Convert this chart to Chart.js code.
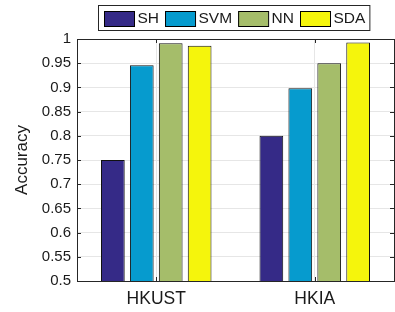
<!DOCTYPE html>
<html>
<head>
<meta charset="utf-8">
<script src="https://cdn.jsdelivr.net/npm/chart.js@4"></script>
<style>
  html, body { margin: 0; padding: 0; background: #fff; }
  #wrap { width: 395px; height: 312px; }
</style>
</head>
<body>
<div id="wrap"><canvas id="c" width="395" height="312"></canvas></div>
<script>
var categories = ['HKUST', 'HKIA'];
var methods = ['SH', 'SVM', 'NN', 'SDA'];
var shValues = [0.75, 0.80];
var svmValues = [0.946, 0.898];
var nnValues = [0.991, 0.950];
var sdaValues = [0.986, 0.993];
var yTicks = [0.5, 0.55, 0.6, 0.65, 0.7, 0.75, 0.8, 0.85, 0.9, 0.95, 1];
var colors = ['#352a87', '#069bce', '#a5bd6a', '#f5f50c'];

var FONT = '"Liberation Sans", Arial, sans-serif';
var series = [shValues, svmValues, nnValues, sdaValues];
var datasets = [];
for (var i = 0; i < methods.length; i++) {
    datasets.push({
        label: methods[i],
        data: series[i],
        backgroundColor: colors[i],
        borderColor: '#111',
        borderWidth: 1,
        borderSkipped: false,
        barPercentage: 0.82,
        categoryPercentage: 0.73
    });
}

// box round the plot, inward ticks, and the MATLAB style legend
var boxPlugin = {
    id: 'box',
    afterDraw: function(chart) {
        var ctx = chart.ctx, a = chart.chartArea;
        var ys = chart.scales.y, xs = chart.scales.x;
        ctx.save();
        ctx.strokeStyle = '#262626';
        ctx.lineWidth = 1;
        ctx.beginPath();
        for (var i = 0; i < yTicks.length; i++) {
            var py = Math.round(ys.getPixelForValue(yTicks[i])) + 0.5;
            ctx.moveTo(a.left, py); ctx.lineTo(a.left + 4, py);
            ctx.moveTo(a.right, py); ctx.lineTo(a.right - 4, py);
        }
        for (var j = 0; j < categories.length; j++) {
            var px = Math.round(xs.getPixelForValue(j)) + 0.5;
            ctx.moveTo(px, a.top); ctx.lineTo(px, a.top + 4);
            ctx.moveTo(px, a.bottom); ctx.lineTo(px, a.bottom - 4);
        }
        ctx.stroke();
        ctx.strokeRect(Math.round(a.left) + 0.5, Math.round(a.top) + 0.5,
            Math.round(a.right - a.left), Math.round(a.bottom - a.top));

        // legend
        ctx.font = '15.5px ' + FONT;
        ctx.textBaseline = 'middle';
        var x = 104, top = 11, bw = 30, bh = 15;
        var start = 98;
        for (var k = 0; k < methods.length; k++) {
            ctx.fillStyle = colors[k];
            ctx.fillRect(x, top, bw, bh);
            ctx.strokeStyle = '#000';
            ctx.strokeRect(x + 0.5, top + 0.5, bw, bh);
            ctx.fillStyle = '#1a1a1a';
            ctx.fillText(methods[k], x + bw + 3.5, top + bh / 2 + 0.5);
            x = x + bw + 3.5 + ctx.measureText(methods[k]).width + 6;
        }
        ctx.strokeStyle = '#262626';
        ctx.strokeRect(start + 0.5, 5.5, x - start - 2, 25);
        ctx.restore();
    }
};

var ctx = document.getElementById('c').getContext('2d');
var myChart = new Chart(ctx, {
    type: 'bar',
    data: { labels: categories, datasets: datasets },
    options: {
        responsive: false,
        animation: false,
        layout: { padding: { top: 39, right: 1, left: 0, bottom: 0 } },
        plugins: { legend: { display: false }, tooltip: { enabled: false } },
        scales: {
            x: {
                grid: { color: '#e6e6e6', drawTicks: false, offset: false },
                border: { color: '#262626' },
                ticks: { color: '#1a1a1a', font: { family: FONT, size: 17.5 }, padding: 8 },
                afterFit: function(s) { s.height = 31; }
            },
            y: {
                min: 0.5, max: 1,
                grid: { color: '#e6e6e6', drawTicks: false },
                border: { color: '#262626' },
                afterBuildTicks: function(s) { s.ticks = yTicks.map(function(v) { return { value: v }; }); },
                ticks: {
                    color: '#1a1a1a', font: { family: FONT, size: 15 }, padding: 6,
                    callback: function(v) { return String(Math.round(v * 100) / 100); }
                },
                title: { display: true, text: 'Accuracy', color: '#1a1a1a', font: { family: FONT, size: 17 }, padding: { top: 12, bottom: 0 } },
                afterFit: function(s) { s.width = 77; }
            }
        }
    },
    plugins: [boxPlugin]
});
</script>
</body>
</html>
